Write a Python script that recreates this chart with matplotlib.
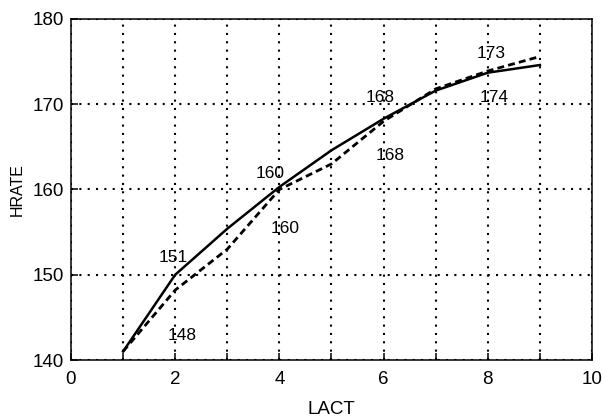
import matplotlib
matplotlib.use("Agg")
import matplotlib.pyplot as plt
from matplotlib.ticker import MultipleLocator

plt.rcParams['font.family'] = ['Liberation Sans', 'DejaVu Sans']

# data
lact = [1, 2, 3, 4, 5, 6, 7, 8, 9]
hrate_fit = [141.0, 150.0, 155.4, 160.3, 164.6, 168.3, 171.6, 173.7, 174.6]
hrate_obs = [141.0, 148.2, 153.0, 160.0, 163.0, 168.0, 171.8, 173.9, 175.6]

# value labels written on the plot
label_text = ["151", "148", "160", "160", "168", "168", "173", "174"]
label_x = [1.97, 2.14, 3.82, 4.11, 5.93, 6.12, 8.07, 8.13]
label_y = [152.0, 142.9, 161.9, 155.4, 170.8, 164.0, 176.0, 170.8]

fig = plt.figure(figsize=(6.03, 4.19), dpi=100)
ax = fig.add_axes([0.1177, 0.1408, 0.8641, 0.8139])

ax.plot(lact, hrate_fit, color='black', lw=1.8, solid_joinstyle='round')
ax.plot(lact, hrate_obs, color='black', lw=2.0, linestyle=(0, (2.5, 1.5)))

for t, x, y in zip(label_text, label_x, label_y):
    ax.text(x, y, t, ha='center', va='center', fontsize=12.5)

ax.set_xlim(0, 10)
ax.set_ylim(140, 180)
ax.xaxis.set_major_locator(MultipleLocator(2))
ax.xaxis.set_minor_locator(MultipleLocator(1))
ax.yaxis.set_major_locator(MultipleLocator(10))

ax.grid(True, which='both', axis='x', color='black', lw=1.5, linestyle=(0, (1, 3)))
ax.grid(True, which='major', axis='y', color='black', lw=1.5, linestyle=(0, (1, 3)))

ax.tick_params(which='both', direction='in', length=5, width=1.1, labelsize=13.5, pad=8)
ax.tick_params(axis='y', pad=5)
for s in ax.spines.values():
    s.set_linewidth(1.1)

ax.set_xlabel('LACT', fontsize=13.5, labelpad=9)
ax.set_ylabel('HRATE', fontsize=11.5, labelpad=6)

fig.savefig('out.png', dpi=100)
